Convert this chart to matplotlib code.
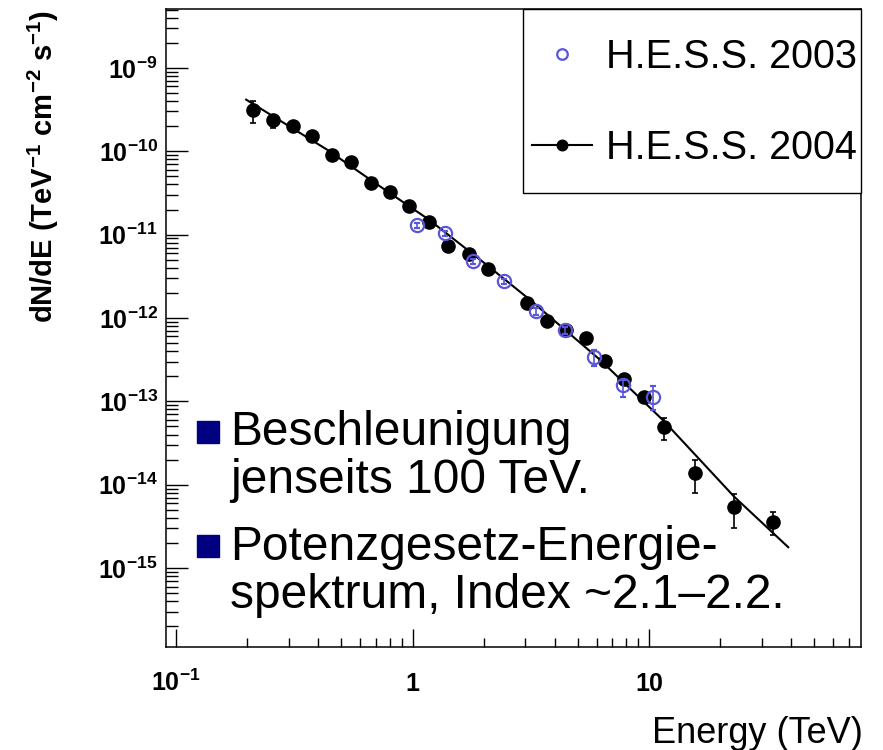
import matplotlib
matplotlib.use('Agg')
import matplotlib.pyplot as plt
from matplotlib.patches import Rectangle
from matplotlib.ticker import LogLocator, NullFormatter

plt.rcParams['font.family'] = ['Liberation Sans', 'DejaVu Sans']
plt.rcParams['mathtext.fontset'] = 'custom'
plt.rcParams['mathtext.rm'] = 'Liberation Sans'
plt.rcParams['mathtext.bf'] = 'Liberation Sans:bold'
plt.rcParams['mathtext.default'] = 'bf'

# H.E.S.S. 2004 (schwarze Punkte)
e_2004 = [0.212, 0.258, 0.313, 0.377, 0.455, 0.549, 0.665, 0.803, 0.969, 1.174,
          1.416, 1.728, 2.092, 3.04, 3.69, 4.45, 5.42, 6.54, 7.86, 9.53,
          11.56, 15.7, 22.9, 33.6]
f_2004 = [3.10e-10, 2.35e-10, 2.03e-10, 1.54e-10, 9.1e-11, 7.36e-11, 4.16e-11, 3.27e-11, 2.22e-11, 1.40e-11,
          7.36e-12, 5.85e-12, 3.87e-12, 1.53e-12, 9.25e-13, 7.08e-13, 5.74e-13, 3.06e-13, 1.86e-13, 1.12e-13,
          4.90e-14, 1.40e-14, 5.37e-15, 3.61e-15]
f_2004_lo = [2.19e-10, 1.91e-10, 1.85e-10, 1.42e-10, 8.5e-11, 6.9e-11, 3.9e-11, 3.05e-11, 2.07e-11, 1.31e-11,
             6.8e-12, 5.45e-12, 3.6e-12, 1.42e-12, 8.5e-13, 6.5e-13, 5.25e-13, 2.78e-13, 1.62e-13, 0.98e-13,
             3.45e-14, 8.04e-15, 3.05e-15, 2.49e-15]
f_2004_hi = [3.97e-10, 2.75e-10, 2.2e-10, 1.66e-10, 9.7e-11, 7.8e-11, 4.4e-11, 3.5e-11, 2.37e-11, 1.49e-11,
             7.9e-12, 6.25e-12, 4.14e-12, 1.64e-12, 1.0e-12, 7.7e-13, 6.25e-13, 3.35e-13, 2.1e-13, 1.27e-13,
             6.28e-14, 1.99e-14, 7.74e-15, 4.75e-15]

# H.E.S.S. 2003 (offene blaue Kreise)
e_2003 = [1.042, 1.372, 1.807, 2.44, 3.32, 4.42, 5.87, 7.79, 10.36]
f_2003 = [1.29e-11, 1.045e-11, 4.77e-12, 2.74e-12, 1.20e-12, 7.08e-13, 3.40e-13, 1.58e-13, 1.14e-13]
f_2003_lo = [1.2e-11, 0.97e-11, 4.45e-12, 2.55e-12, 1.1e-12, 6.5e-13, 2.62e-13, 1.14e-13, 7.9e-14]
f_2003_hi = [1.38e-11, 1.12e-11, 5.1e-12, 2.93e-12, 1.3e-12, 7.7e-13, 4.15e-13, 1.81e-13, 1.54e-13]

# Fitkurve
fit_e = [0.198, 0.434, 0.729, 1.174, 2.08, 3.14, 6.21, 11.5, 15.7, 22.9, 38.8]
fit_f = [4.16e-10, 1.05e-10, 3.79e-11, 1.51e-11, 4.24e-12, 1.65e-12, 3.15e-13, 5.89e-14, 2.28e-14, 7.2e-15, 1.78e-15]

x_ticks = [0.1, 1, 10]
x_labels = [r'$10^{-1}$', '1', '10']
y_ticks = [1e-15, 1e-14, 1e-13, 1e-12, 1e-11, 1e-10, 1e-9]
y_labels = [r'$10^{-15}$', r'$10^{-14}$', r'$10^{-13}$', r'$10^{-12}$', r'$10^{-11}$', r'$10^{-10}$', r'$10^{-9}$']

notes = ['Beschleunigung', 'jenseits 100 TeV.', 'Potenzgesetz-Energie-', 'spektrum, Index ~2.1–2.2.']
note_baselines = [445, 493, 560, 608]   # Pixel von oben
bullet_tops = [421, 535]

blue = '#5a55d9'

fig = plt.figure(figsize=(8.83, 7.5), dpi=100)
ax = fig.add_axes([0.18799, 0.13733, 0.78709, 0.85067])

fit_line, = ax.plot(fit_e, fit_f, color='black', lw=1.5, zorder=2)

err04 = [[f - lo for f, lo in zip(f_2004, f_2004_lo)], [hi - f for f, hi in zip(f_2004, f_2004_hi)]]
eb04 = ax.errorbar(e_2004, f_2004, yerr=err04, fmt='o', color='black', ms=9.5,
                   elinewidth=1.2, capsize=2.5, capthick=1.2, zorder=3)

err03 = [[f - lo for f, lo in zip(f_2003, f_2003_lo)], [hi - f for f, hi in zip(f_2003, f_2003_hi)]]
eb03 = ax.errorbar(e_2003, f_2003, yerr=err03, fmt='o', mfc='none', mec=blue, mew=1.6,
                   ecolor=blue, ms=9.5, elinewidth=1.2, capsize=2.5, capthick=1.2, zorder=4)

ax.set_xscale('log')
ax.set_yscale('log')
ax.set_xlim(0.0907, 78.8)
ax.set_ylim(1.13e-16, 5.09e-9)

ax.set_xticks(x_ticks, x_labels, fontsize=18, fontweight='bold')
ax.set_yticks(y_ticks, y_labels, fontsize=18, fontweight='bold')
for lab in ax.get_xticklabels():
    lab.set_va('baseline')
for axis in (ax.xaxis, ax.yaxis):
    axis.set_minor_locator(LogLocator(base=10, subs=range(2, 10), numticks=30))
    axis.set_minor_formatter(NullFormatter())

ax.tick_params(which='both', direction='in', top=False, right=False, width=1)
ax.tick_params(axis='x', which='major', length=13, pad=32)
ax.tick_params(axis='x', which='minor', length=6.5)
ax.tick_params(axis='y', which='major', length=16, pad=6)
ax.tick_params(axis='y', which='minor', length=8.6)
for s in ax.spines.values():
    s.set_linewidth(1.1)

ax.set_xlabel('Energy (TeV)', loc='right', fontsize=26)
ax.xaxis.label.set_va('baseline')
ax.xaxis.set_label_coords(1.003, -0.1505)

fig.text(43 / 883, 1 - 10 / 750, r'dN/dE (TeV$^{-1}$ cm$^{-2}$ s$^{-1}$)',
         rotation=90, ha='center', va='top', fontsize=21, fontweight='bold')

# Legendenrahmen wie im ROOT-Bild, Eintraege darin
ax.add_patch(Rectangle((0.514, 0.7116), 0.486, 0.2884, transform=ax.transAxes,
                       facecolor='white', edgecolor='black', lw=1.0, zorder=5, clip_on=False))
leg = ax.legend([eb03[0], (fit_line, eb04[0])], ['H.E.S.S. 2003', 'H.E.S.S. 2004'],
                loc='upper right', bbox_to_anchor=(1.0, 0.9608), borderaxespad=0, fontsize=28.5,
                frameon=False, borderpad=0.1, handlelength=1.52, handletextpad=0.35,
                labelspacing=1.34, markerscale=0.8, numpoints=1)
leg.set_zorder(6)

# Stichpunkte
for top in bullet_tops:
    fig.add_artist(Rectangle((197 / 883, 1 - (top + 22) / 750), 22 / 883, 22 / 750,
                             transform=fig.transFigure, color='#000080'))
for txt, base in zip(notes, note_baselines):
    fig.text(230 / 883, 1 - base / 750, txt, fontsize=34.5, va='baseline', ha='left')

fig.savefig('out.png', dpi=100)
